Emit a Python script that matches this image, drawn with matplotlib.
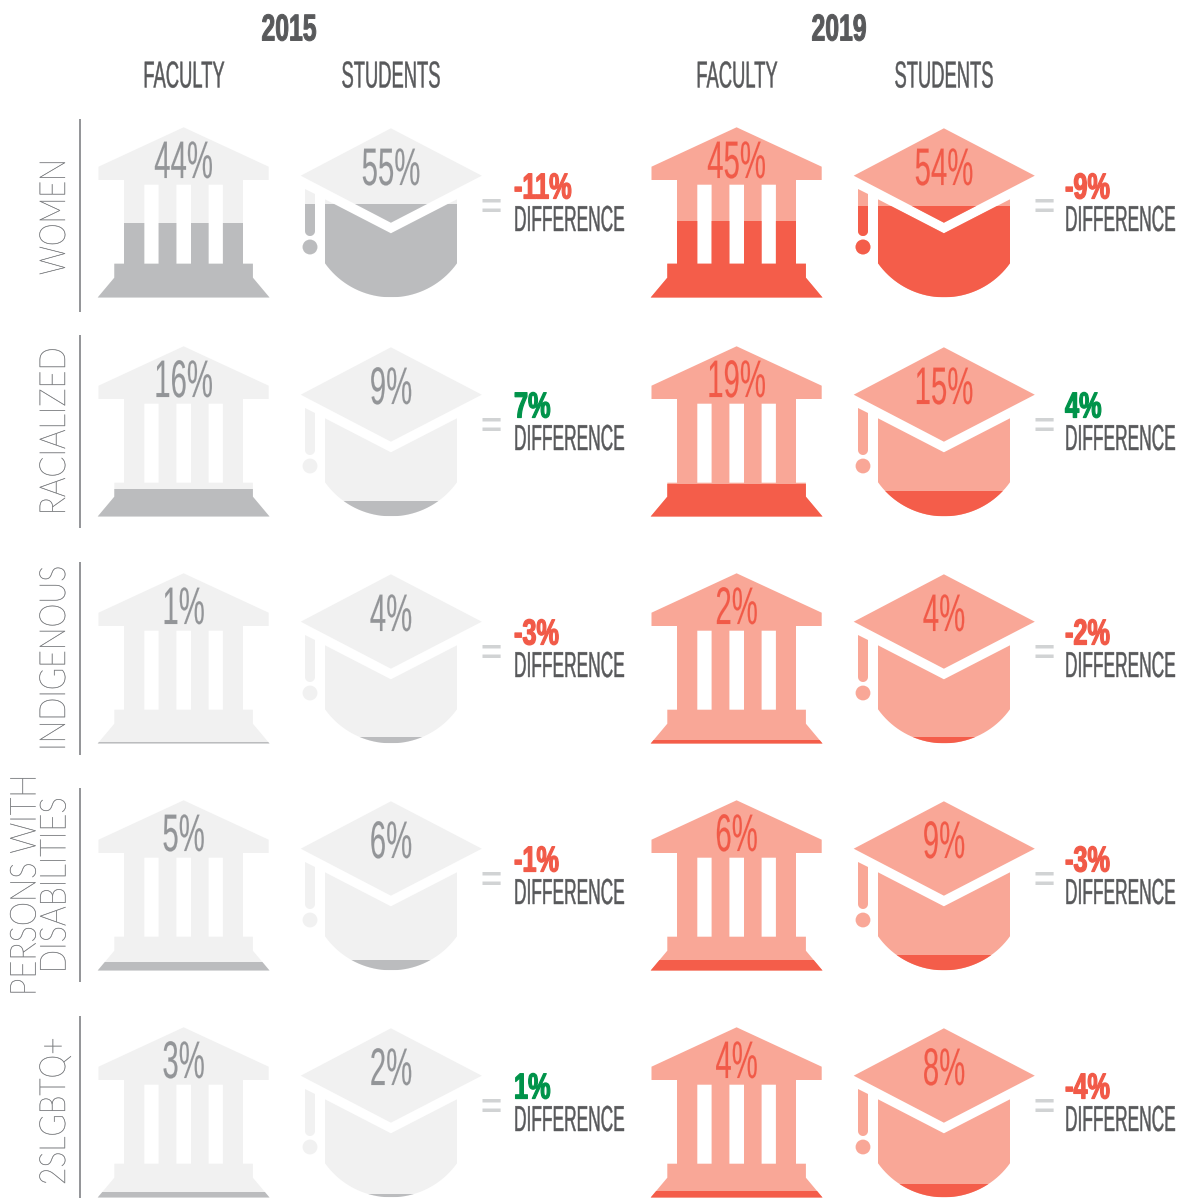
import numpy as np
import matplotlib
matplotlib.use('Agg')
import matplotlib.pyplot as plt
import matplotlib.patheffects as pe
from matplotlib.patches import PathPatch, Rectangle
from matplotlib.path import Path
from matplotlib.text import Text
from matplotlib.transforms import Affine2D, Bbox

rows = ['WOMEN', 'RACIALIZED', 'INDIGENOUS', 'PERSONS WITH\nDISABILITIES', '2SLGBTQ+']
years = ['2015', '2019']

faculty_2015 = [44, 16, 1, 5, 3]
students_2015 = [55, 9, 4, 6, 2]
diff_2015 = [-11, 7, -3, -1, 1]

faculty_2019 = [45, 19, 2, 6, 4]
students_2019 = [54, 15, 4, 9, 8]
diff_2019 = [-9, 4, -2, -3, -4]

W, H = 1187, 1199

# vertical offset of each row and horizontal offset of the 2019 block, in pixels
ROW_DY = [0, 219, 446, 673, 900]
YEAR_DX = [0, 553]
LINE_SPANS = [(119, 312), (335, 528), (562, 755), (788, 982), (1016, 1198)]
LABEL_X = [55.5, 55.5, 55.5, 41, 55.5]
LABEL_Y = [217, 431, 658, 885, 1111]
LABEL_SQUEEZE = [0.8, 0.85, 0.84, 0.855, 0.835]

GREY_LIGHT, GREY_DARK, GREY_TEXT = '#f1f1f1', '#bbbcbe', '#939598'
RED_LIGHT, RED_DARK, RED_TEXT = '#f9a797', '#f45d4a', '#f15a48'
GREEN = '#00934a'
DARK_TEXT = '#58595b'
SANS = 'Liberation Sans'


class Squeeze(pe.AbstractPathEffect):
    # condenses drawn glyphs around the text anchor, there is no condensed font
    def __init__(self, ax, x, y, sx=1.0, sy=1.0, stroke=0.0):
        super().__init__()
        self.ax, self.x, self.y, self.sx, self.sy, self.stroke = ax, x, y, sx, sy, stroke

    def draw_path(self, renderer, gc, tpath, affine, rgbFace=None):
        cx, cy = self.ax.transData.transform((self.x, self.y))
        squeeze = Affine2D().translate(-cx, -cy).scale(self.sx, self.sy).translate(cx, cy)
        gc0 = renderer.new_gc()
        gc0.copy_properties(gc)
        if self.stroke > 0:
            gc0.set_linewidth(self.stroke)
            gc0.set_foreground(rgbFace)
        renderer.draw_path(gc0, tpath, affine + squeeze, rgbFace)
        gc0.restore()


class CondensedText(Text):
    def __init__(self, ax, x, y, s, sx=1.0, sy=1.0, stroke=0.0, **kw):
        super().__init__(x, y, s, **kw)
        self.sq = (ax, x, y, sx, sy)
        self.set_path_effects([Squeeze(ax, x, y, sx, sy, stroke)])

    def get_window_extent(self, renderer=None, dpi=None):
        bb = super().get_window_extent(renderer, dpi)
        ax, x, y, sx, sy = self.sq
        cx, cy = ax.transData.transform((x, y))
        return Bbox([[cx + (bb.x0 - cx) * sx, cy + (bb.y0 - cy) * sy],
                     [cx + (bb.x1 - cx) * sx, cy + (bb.y1 - cy) * sy]])


def put_text(ax, x, y, s, **kw):
    t = CondensedText(ax, x, y, s, **kw)
    ax.add_artist(t)
    return t


def poly(*pts):
    pts = np.array(pts, dtype=float)
    return Path(np.vstack([pts, pts[:1]]), closed=True)


def building_path():
    parts = [poly((183.6, 127.3), (268.7, 166.7), (268.7, 180), (98.5, 180), (98.5, 166.7)),
             poly((124, 180), (243, 180), (243, 184.7), (124, 184.7))]
    for x0, x1 in [(124, 144.3), (158.6, 176.4), (191, 208.6), (222.9, 243)]:
        parts.append(poly((x0, 184.7), (x1, 184.7), (x1, 263.7), (x0, 263.7)))
    parts.append(poly((114.3, 263.7), (252.9, 263.7), (252.9, 277.7), (269.5, 297.5),
                      (97.7, 297.5), (114.3, 277.7)))
    return Path.make_compound_path(*parts)


def cap_path():
    board = poly((300.7, 175.7), (390.9, 128.3), (481.8, 175.7), (390.9, 222.7))
    # body with a circular bottom
    r = 81.0
    a0 = np.arcsin(66.0 / r)
    a = np.linspace(a0, -a0, 40)
    arc = np.column_stack([391 + r * np.sin(a), 297.3 - r + r * np.cos(a)])
    body = poly((325, 199.3), (390.9, 233.3), (457, 199.3), (457, 263.3), *arc, (325, 263.3))
    a = np.linspace(0, np.pi, 14)
    tip = np.column_stack([310 + 5 * np.cos(a), 231 + 5 * np.sin(a)])
    stem = poly((305, 189), (315, 194), *tip, (305, 189))
    dot = Path.circle((310, 247), 7.4)
    return Path.make_compound_path(board, body, stem, dot)


def draw_icon(ax, template, dx, dy, value, top, bottom, left, right, light, dark):
    path = template.transformed(Affine2D().translate(dx, dy))
    ax.add_patch(PathPatch(path, fc=light, ec='none', lw=0))
    # the dark part fills the icon from the bottom up to the value
    level = bottom - (bottom - top) * value / 100.0
    clip = Rectangle((left + dx, level + dy), right - left, bottom - level, transform=ax.transData)
    filled = PathPatch(path, fc=dark, ec='none', lw=0)
    ax.add_patch(filled)
    filled.set_clip_path(clip)


fig = plt.figure(figsize=(W / 100, H / 100), dpi=100, facecolor='white')
ax = fig.add_axes([0, 0, 1, 1])
ax.set_xlim(0, W)
ax.set_ylim(H, 0)
ax.axis('off')

building = building_path()
cap = cap_path()

data = [(faculty_2015, students_2015, diff_2015, GREY_LIGHT, GREY_DARK, GREY_TEXT),
        (faculty_2019, students_2019, diff_2019, RED_LIGHT, RED_DARK, RED_TEXT)]

for y, (faculty, students, diffs, light, dark, pct_color) in enumerate(data):
    dx = YEAR_DX[y]
    put_text(ax, [289, 839][y], 40.5, years[y], sx=0.66, stroke=0.7, family=SANS, weight='bold', fontsize=27,
             color=DARK_TEXT, ha='center', va='baseline')
    put_text(ax, 184 + dx, 87.5, 'FACULTY', sx=0.49, stroke=0.3, family=SANS, fontsize=27,
             color=DARK_TEXT, ha='center', va='baseline')
    put_text(ax, 391 + dx, 87.5, 'STUDENTS', sx=0.49, stroke=0.3, family=SANS, fontsize=27,
             color=DARK_TEXT, ha='center', va='baseline')
    for i in range(len(rows)):
        dy = ROW_DY[i]
        draw_icon(ax, building, dx, dy, faculty[i], 127.3, 297.5, 95, 272, light, dark)
        draw_icon(ax, cap, dx, dy, students[i], 128.3, 297.3, 298, 484, light, dark)
        put_text(ax, 183.6 + dx, 178 + dy, '%d%%' % faculty[i], sx=0.556, stroke=0.1, family=SANS, fontsize=38,
                 color=pct_color, ha='center', va='baseline')
        put_text(ax, 391 + dx, 185 + dy, '%d%%' % students[i], sx=0.556, stroke=0.1, family=SANS, fontsize=38,
                 color=pct_color, ha='center', va='baseline')
        ax.text(491 + dx, 219 + dy, '=', family=SANS, weight='bold', fontsize=26,
                color='#d1d3d4', ha='center', va='baseline')
        x_text = 514 if y == 0 else 1065
        put_text(ax, x_text, 198.5 + dy, '%d%%' % diffs[i], sx=0.7, stroke=0.9, family=SANS, weight='bold',
                 fontsize=26, color=GREEN if diffs[i] > 0 else RED_TEXT, ha='left', va='baseline')
        # small font size stretched upward so the text box stays inside the figure
        put_text(ax, x_text, 231 + dy, 'DIFFERENCE', sx=0.96, sy=2.0, stroke=0.3, family=SANS, fontsize=13,
                 color=DARK_TEXT, ha='left', va='baseline')

for i, label in enumerate(rows):
    y0, y1 = LINE_SPANS[i]
    ax.plot([80, 80], [y0, y1], color='#808285', lw=1.2, solid_capstyle='butt')
    put_text(ax, LABEL_X[i], LABEL_Y[i], label, sy=LABEL_SQUEEZE[i], stroke=0.3, family='Lato', weight='light',
             fontsize=26, color='#808285', rotation=90, ha='center', va='center', ma='center', linespacing=0.88)

fig.savefig('out.png', dpi=100)
